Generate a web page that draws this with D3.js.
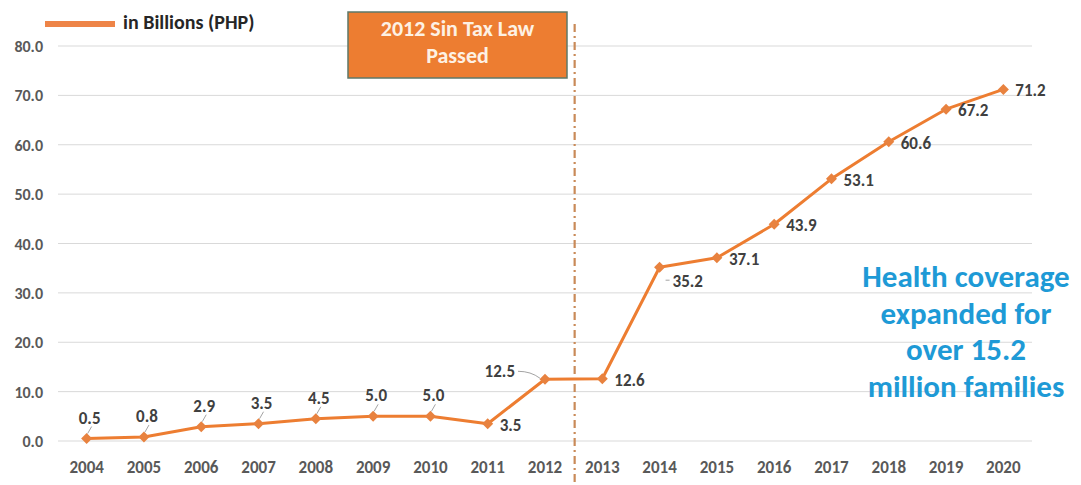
<!DOCTYPE html>
<html>
<head>
<meta charset="utf-8">
<script src="https://cdn.jsdelivr.net/npm/d3@7"></script>
<style>
  html, body { margin: 0; padding: 0; background: #ffffff; }
  svg { display: block; }
  text { font-family: Carlito, Lato, "Open Sans", sans-serif; }
</style>
</head>
<body>
<svg id="chart" width="1081" height="485"></svg>
<script>
// ---- data ----
const years = ["2004","2005","2006","2007","2008","2009","2010","2011","2012",
               "2013","2014","2015","2016","2017","2018","2019","2020"];
const values = [0.5, 0.8, 2.9, 3.5, 4.5, 5.0, 5.0, 3.5, 12.5,
                12.6, 35.2, 37.1, 43.9, 53.1, 60.6, 67.2, 71.2];
const labelPlacement = ["top","top","top","top","top","top","top","right","left",
                        "right","belowRight","right","right","right","right","right","right"];
const yTicks = [0, 10, 20, 30, 40, 50, 60, 70, 80];
const seriesName = "in Billions (PHP)";
const eventLabel = ["2012 Sin Tax Law", "Passed"];
const eventYear = "2013";
const noteLines = ["Health coverage", "expanded for", "over 15.2", "million families"];

// ---- drawing ----
const svg = d3.select("#chart");
const orange = "#ED7D31";

const x = d3.scaleBand().domain(years).range([58, 1032]);
const y = d3.scaleLinear().domain([0, 80]).range([441, 46]);
const cx = d => x(d) + x.bandwidth() / 2;

// gridlines
svg.append("g").selectAll("line").data(yTicks).join("line")
  .attr("x1", 58).attr("x2", 1032)
  .attr("y1", d => y(d)).attr("y2", d => y(d))
  .attr("stroke", "#d9d9d9").attr("stroke-width", 1);

// y axis labels
const yAxis = d3.axisLeft(y).tickValues(yTicks).tickFormat(d3.format(".1f")).tickSize(0).tickPadding(0);
const yg = svg.append("g").attr("transform", "translate(43,0)").call(yAxis);
yg.select(".domain").remove();
yg.selectAll("text").attr("font-size", 16).attr("font-weight", 700).attr("fill", "#595959")
  .attr("font-family", "Carlito, Lato, sans-serif").attr("dy", "0.35em");

// x axis labels
const xAxis = d3.axisBottom(x).tickSize(0).tickPadding(0);
const xg = svg.append("g").attr("transform", "translate(0,460)").call(xAxis);
xg.select(".domain").remove();
xg.selectAll("text").attr("font-size", 17).attr("font-weight", 700).attr("fill", "#595959")
  .attr("font-family", "Carlito, Lato, sans-serif").attr("dy", "0.75em");

// event vertical dash-dot line
svg.append("line")
  .attr("x1", x(eventYear) + 1).attr("x2", x(eventYear) + 1)
  .attr("y1", 24).attr("y2", 485)
  .attr("stroke", "#C98A58").attr("stroke-width", 2.2)
  .attr("stroke-dasharray", "8,4,2,4");

// event box
const box = svg.append("g");
box.append("rect").attr("x", 348).attr("y", 12).attr("width", 219).attr("height", 66)
  .attr("fill", orange).attr("stroke", "#5e7868").attr("stroke-width", 1.5);
box.selectAll("text").data(eventLabel).join("text")
  .attr("x", 457.5).attr("y", (d, i) => 36 + i * 27)
  .attr("text-anchor", "middle").attr("font-size", 22).attr("font-weight", 700)
  .attr("fill", "#fdf1e4").text(d => d);

// line
const line = d3.line().x((d, i) => cx(years[i])).y(d => y(d));
svg.append("path").datum(values)
  .attr("d", line).attr("fill", "none")
  .attr("stroke", orange).attr("stroke-width", 3).attr("stroke-linejoin", "round");

// markers
svg.append("g").selectAll("path").data(values).join("path")
  .attr("transform", (d, i) => `translate(${cx(years[i])},${y(d)})`)
  .attr("d", "M0,-5.5L5.5,0L0,5.5L-5.5,0Z")
  .attr("fill", "#E8823F");

// leaders
const leaders = svg.append("g").attr("stroke", "#8c8c8c").attr("stroke-width", 0.8).attr("fill", "none");
values.forEach((v, i) => {
  const px = cx(years[i]), py = y(v), p = labelPlacement[i];
  if (p === "top") {
    leaders.append("line").attr("x1", px + 5).attr("y1", py - 12).attr("x2", px + 1).attr("y2", py - 5);
  } else if (p === "left") {
    leaders.append("path").attr("d", `M${px - 27},${py - 8} Q${px - 14},${py - 8} ${px - 5},${py - 1}`);
  } else if (p === "belowRight") {
    leaders.append("line").attr("x1", px + 6).attr("y1", py + 13).attr("x2", px + 10).attr("y2", py + 13);
  }
});

// data labels
const fmt = d3.format(".1f");
svg.append("g").selectAll("text").data(values).join("text")
  .each(function(v, i) {
    const px = cx(years[i]), py = y(v), p = labelPlacement[i];
    const t = d3.select(this);
    if (p === "top") t.attr("x", px + 3).attr("y", py - 15).attr("text-anchor", "middle");
    else if (p === "right") t.attr("x", px + 12).attr("y", py + 7).attr("text-anchor", "start");
    else if (p === "left") t.attr("x", px - 30).attr("y", py - 2).attr("text-anchor", "end");
    else t.attr("x", px + 13).attr("y", py + 20).attr("text-anchor", "start");
  })
  .attr("font-size", 17).attr("font-weight", 700).attr("fill", "#404040")
  .text(d => fmt(d));

// legend
svg.append("line").attr("x1", 45).attr("x2", 115).attr("y1", 24).attr("y2", 24)
  .attr("stroke", "#EE8447").attr("stroke-width", 6);
svg.append("text").attr("x", 123).attr("y", 29)
  .attr("font-size", 20).attr("font-weight", 700).attr("fill", "#262626")
  .text(seriesName);

// note
svg.append("g").selectAll("text").data(noteLines).join("text")
  .attr("x", 966).attr("y", (d, i) => 287 + i * 36.5)
  .attr("text-anchor", "middle").attr("font-size", 31).attr("font-weight", 700)
  .attr("fill", "#1E9AD6").text(d => d);
</script>
</body>
</html>
